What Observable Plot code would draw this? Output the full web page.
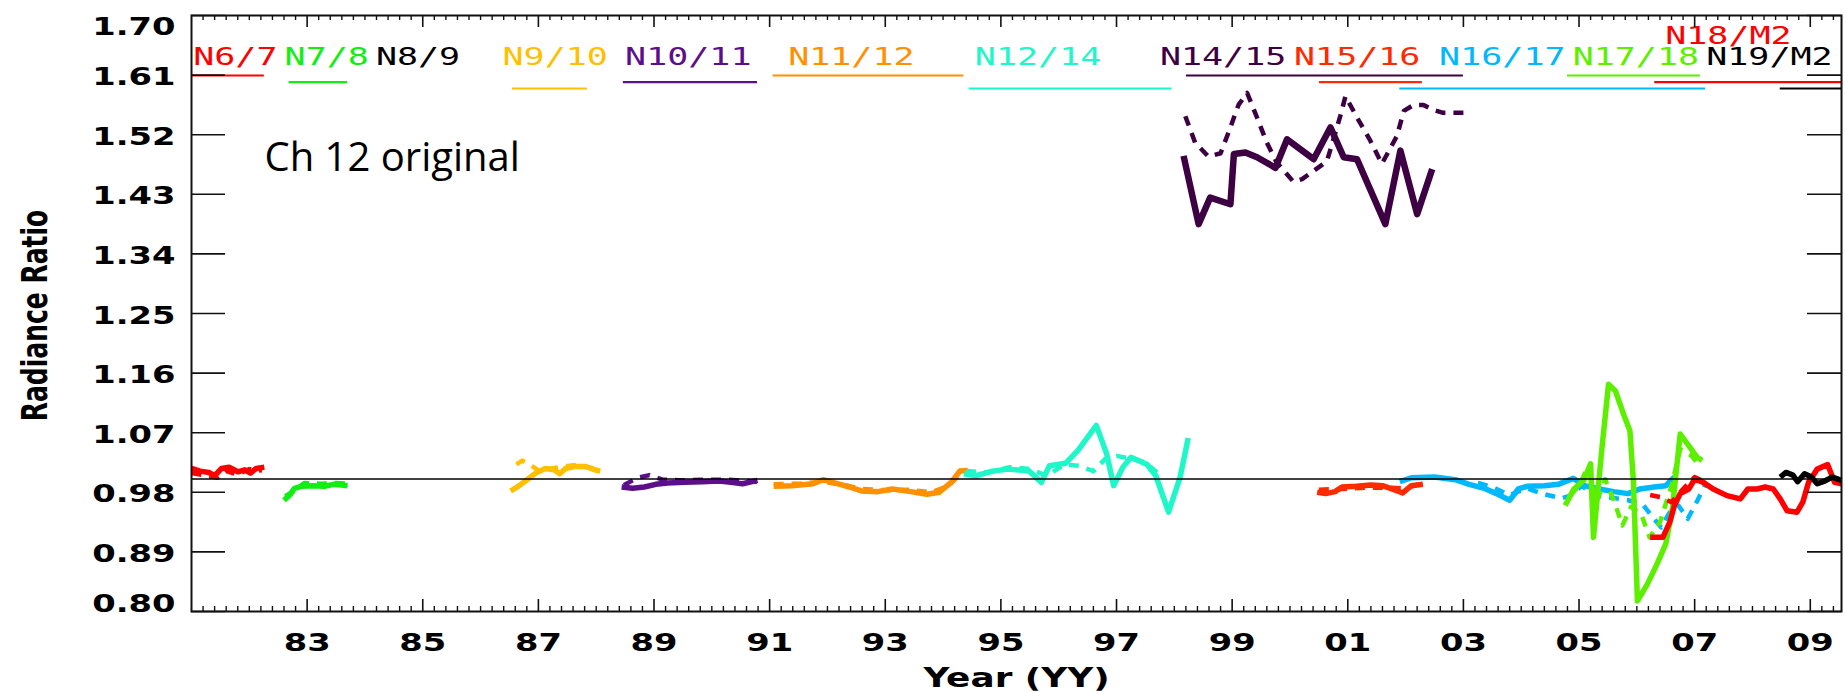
<!DOCTYPE html>
<html><head><meta charset="utf-8">
<script src="https://cdn.jsdelivr.net/npm/d3@7"></script>
<script src="https://cdn.jsdelivr.net/npm/@observablehq/plot@0.6"></script>
<style>
html,body{margin:0;padding:0;background:#fff;}
#chart svg{display:block;}
</style></head><body><div id="chart"></div>
<script>
// ---- tick labels ----
const xMajor = [1983,1985,1987,1989,1991,1993,1995,1997,1999,2001,2003,2005,2007,2009];
const yTicks = [0.80,0.89,0.98,1.07,1.16,1.25,1.34,1.43,1.52,1.61,1.70];

// ---- satellite pairs ----
const pairNames  = ["N6/7","N7/8","N8/9","N9/10","N10/11","N11/12","N12/14","N14/15","N15/16","N16/17","N17/18","N18/M2","N19/M2"];
const pairColors = ["#ff0000","#11ee11","#000000","#ffc000","#5c0f8b","#ff9000","#1ef7c8","#3d0042","#ff2a00","#00b8ff","#5cf000","#ff0000","#000000"];
const labelYears = [1981.03,1982.61,1984.19,1986.38,1988.50,1991.32,1994.55,1997.75,2000.07,2002.58,2004.89,2006.49,2007.20];
const labelUpper = [false,false,false,false,false,false,false,false,false,false,false,true,false];
const spanStart  = [1981.00,1982.69,null,1986.55,1988.47,1991.06,1994.45,1998.21,2000.51,2001.90,2004.80,2006.31,2008.48];
const spanEnd    = [1982.26,1983.70,null,1987.85,1990.79,1994.36,1997.96,2003.00,2002.29,2007.19,2007.10,2009.54,2009.54];
const spanLevel  = [0,1,null,2,1,0,2,0,1,2,0,1,2];

// ---- radiance ratio series [year, ratio] ----
const n6_7   = [[1981.00,1.016],[1981.15,1.012],[1981.30,1.010],[1981.40,1.005],[1981.52,1.016],[1981.65,1.018],[1981.80,1.011],[1981.92,1.014],[1982.02,1.009],[1982.12,1.016],[1982.26,1.018]];
const n6_7d  = [[1981.00,1.009],[1981.20,1.006],[1981.45,1.002],[1981.60,1.012],[1981.80,1.007],[1982.00,1.015],[1982.22,1.013]];
const n7_8   = [[1982.60,0.968],[1982.70,0.976],[1982.78,0.986],[1982.90,0.989],[1983.10,0.990],[1983.30,0.989],[1983.45,0.992],[1983.60,0.991],[1983.70,0.990]];
const n7_8d  = [[1982.62,0.974],[1982.78,0.982],[1982.95,0.994],[1983.25,0.993],[1983.50,0.994],[1983.70,0.993]];
const n9_10  = [[1986.52,0.982],[1986.67,0.990],[1986.82,1.000],[1986.97,1.010],[1987.12,1.016],[1987.27,1.014],[1987.37,1.008],[1987.47,1.016],[1987.62,1.019],[1987.82,1.019],[1987.97,1.014],[1988.07,1.012]];
const n9_10d = [[1986.62,1.022],[1986.72,1.028],[1986.85,1.022],[1987.00,1.013],[1987.30,1.017],[1987.60,1.021],[1987.90,1.017],[1988.05,1.014]];
const n10_11 = [[1988.44,0.988],[1988.63,0.986],[1988.83,0.988],[1989.03,0.992],[1989.23,0.994],[1989.53,0.995],[1989.83,0.996],[1990.13,0.997],[1990.33,0.995],[1990.53,0.993],[1990.79,0.998]];
const n10_11d= [[1988.48,0.991],[1988.72,1.002],[1988.92,1.006],[1989.15,0.999],[1989.50,0.998],[1989.90,0.999],[1990.30,0.999],[1990.60,0.997],[1990.79,0.996]];
const n11_12 = [[1991.07,0.989],[1991.39,0.990],[1991.75,0.993],[1991.92,0.999],[1992.17,0.993],[1992.38,0.988],[1992.59,0.982],[1992.87,0.981],[1993.12,0.985],[1993.44,0.981],[1993.72,0.977],[1993.93,0.980],[1994.14,0.995],[1994.29,1.012],[1994.43,1.013]];
const n11_12d= [[1991.07,0.992],[1991.50,0.993],[1991.90,0.996],[1992.30,0.991],[1992.60,0.985],[1993.00,0.983],[1993.40,0.984],[1993.80,0.980],[1994.10,0.990],[1994.30,1.008],[1994.43,1.010]];
const n12_14 = [[1994.36,1.008],[1994.57,1.005],[1994.85,1.012],[1995.13,1.015],[1995.49,1.012],[1995.70,0.995],[1995.84,1.020],[1996.12,1.024],[1996.33,1.043],[1996.65,1.081],[1996.83,1.038],[1996.95,0.990],[1997.11,1.018],[1997.25,1.033],[1997.53,1.022],[1997.68,1.005],[1997.90,0.950],[1998.10,1.003],[1998.24,1.062]];
const n12_14d= [[1994.40,1.012],[1994.80,1.010],[1995.15,1.018],[1995.50,1.015],[1995.80,1.005],[1996.10,1.022],[1996.35,1.020],[1996.60,1.012],[1996.80,1.030],[1997.00,1.035],[1997.30,1.030],[1997.50,1.025],[1997.70,1.010]];
const n14_15 = [[1998.16,1.488],[1998.42,1.385],[1998.62,1.425],[1998.97,1.415],[1999.03,1.491],[1999.23,1.493],[1999.43,1.486],[1999.75,1.470],[1999.95,1.513],[2000.41,1.483],[2000.70,1.531],[2000.93,1.486],[2001.16,1.483],[2001.65,1.385],[2001.91,1.496],[2002.20,1.400],[2002.46,1.468]];
const n14_15d= [[1998.19,1.548],[1998.36,1.508],[1998.59,1.487],[1998.80,1.492],[1998.97,1.531],[1999.11,1.565],[1999.26,1.583],[1999.43,1.546],[1999.60,1.508],[1999.77,1.478],[2000.06,1.449],[2000.21,1.453],[2000.53,1.473],[2000.64,1.480],[2000.87,1.548],[2000.96,1.578],[2001.16,1.546],[2001.39,1.511],[2001.59,1.476],[2001.85,1.518],[2001.97,1.556],[2002.14,1.565],[2002.31,1.565],[2002.46,1.558],[2002.65,1.553],[2003.00,1.553]];
const n15_16 = [[2000.47,0.980],[2000.62,0.978],[2000.78,0.981],[2000.90,0.988],[2001.15,0.989],[2001.40,0.991],[2001.60,0.990],[2001.80,0.984],[2001.95,0.979],[2002.10,0.990],[2002.30,0.992]];
const n15_16d= [[2000.50,0.984],[2000.90,0.985],[2001.30,0.987],[2001.70,0.987],[2002.00,0.986],[2002.30,0.994]];
const n16_17 = [[2001.90,0.996],[2002.10,1.002],[2002.50,1.003],[2002.86,0.999],[2003.10,0.992],[2003.36,0.986],[2003.57,0.978],[2003.80,0.968],[2003.95,0.985],[2004.10,0.989],[2004.40,0.990],[2004.64,0.992],[2004.90,1.001],[2005.10,0.990],[2005.35,0.985],[2005.60,0.981],[2005.85,0.978],[2006.05,0.985],[2006.30,0.988],[2006.50,0.990],[2006.65,1.003]];
const n16_17d= [[2003.25,0.994],[2003.50,0.988],[2003.80,0.976],[2004.10,0.986],[2004.40,0.977],[2004.70,0.971],[2004.85,0.975],[2005.05,0.990],[2005.25,0.975],[2005.55,0.972],[2005.85,0.968],[2006.10,0.962],[2006.25,0.945],[2006.42,0.927],[2006.57,0.950],[2006.72,0.960],[2006.88,0.940],[2007.05,0.968],[2007.20,0.995]];
const n17_18 = [[2004.76,0.960],[2004.91,0.985],[2005.08,0.998],[2005.20,1.023],[2005.25,0.912],[2005.40,1.050],[2005.51,1.143],[2005.63,1.133],[2005.77,1.098],[2005.88,1.073],[2005.94,0.997],[2006.01,0.816],[2006.18,0.841],[2006.35,0.872],[2006.50,0.902],[2006.61,0.952],[2006.67,1.002],[2006.75,1.068],[2006.90,1.050],[2007.04,1.033],[2007.13,1.028]];
const n17_18d= [[2004.85,0.975],[2005.00,0.990],[2005.15,1.018],[2005.30,0.965],[2005.45,1.000],[2005.60,0.968],[2005.75,0.930],[2005.90,0.958],[2006.08,0.946],[2006.22,0.912],[2006.40,0.935],[2006.60,0.990],[2006.75,1.045],[2006.95,1.035],[2007.08,1.020]];
const n18_m2 = [[2006.23,0.912],[2006.45,0.912],[2006.57,0.935],[2006.65,0.960],[2006.75,0.978],[2006.90,0.985],[2007.00,1.000],[2007.15,0.995],[2007.32,0.985],[2007.56,0.975],[2007.79,0.970],[2007.92,0.985],[2008.08,0.985],[2008.22,0.988],[2008.36,0.985],[2008.48,0.970],[2008.60,0.952],[2008.77,0.950],[2008.87,0.965],[2008.97,0.995],[2009.12,1.015],[2009.30,1.022],[2009.42,0.995],[2009.54,0.993]];
const n18_m2d= [[2006.23,0.976],[2006.40,0.973],[2006.60,0.965],[2006.80,0.985],[2007.00,1.003],[2007.15,0.997]];
const n19_m2 = [[2008.48,1.003],[2008.58,1.010],[2008.70,1.006],[2008.78,0.996],[2008.90,1.008],[2009.02,1.003],[2009.12,0.993],[2009.25,0.997],[2009.38,1.003],[2009.54,0.998]];

// [data, pair, dashed]
const lineSeries = [
  [n6_7d,"N6/7",true],[n6_7,"N6/7",false],
  [n7_8d,"N7/8",true],[n7_8,"N7/8",false],
  [n9_10d,"N9/10",true],[n9_10,"N9/10",false],
  [n10_11d,"N10/11",true],[n10_11,"N10/11",false],
  [n11_12d,"N11/12",true],[n11_12,"N11/12",false],
  [n12_14d,"N12/14",true],[n12_14,"N12/14",false],
  [n14_15d,"N14/15",true],[n14_15,"N14/15",false],
  [n15_16d,"N15/16",true],[n15_16,"N15/16",false],
  [n16_17d,"N16/17",true],[n16_17,"N16/17",false],
  [n17_18d,"N17/18",true],[n17_18,"N17/18",false],
  [n18_m2d,"N18/M2",true],[n18_m2,"N18/M2",false],
  [n19_m2,"N19/M2",false]
];

// ---- layout ----
const W = 1845, H = 692, mL = 191, mR = 4, mT = 15, mB = 81;
const plotW = W - mL - mR, plotH = H - mT - mB;
const colorOf = name => pairColors[pairNames.indexOf(name)];
const xMinor = d3.range(1, 143).filter(i => i % 10 !== 0).map(i => 1981 + i * 0.2);
const labels = pairNames.map((n, i) => ({name: n, year: labelYears[i], upper: labelUpper[i], color: pairColors[i]}));
const spans = pairNames.map((n, i) => ({name: n, x1: spanStart[i], x2: spanEnd[i], level: spanLevel[i], color: pairColors[i]})).filter(d => d.x1 != null);
const levelDy = [60, 66.7, 73];
const fmtY = d3.format(".2f");
const fmtX = d => String(d % 100).padStart(2, "0");
const tickFont = {fontSize: 25, fontWeight: "bold", fontFamily: "DejaVu Sans", fill: "#000"};
const annotation = "Ch 12 original";
const xTitle = "Year (YY)", yTitle = "Radiance Ratio";

const marks = [];
for (const [data, pair, dashed] of lineSeries) {
  const thick = pair === "N14/15" && !dashed ? 6.5 : dashed ? 4.5 : 5.5;
  marks.push(Plot.line(data, {
    x: d => d[0], y: d => d[1], stroke: colorOf(pair),
    strokeWidth: thick, strokeDasharray: dashed ? "10,8" : null,
    strokeLinejoin: "round", strokeLinecap: "butt"
  }));
}
const yTickLabel = (ticks, dy) => Plot.text(ticks, {y: d => d, text: fmtY, frameAnchor: "left", dx: -16, dy,
  textAnchor: "end", lineAnchor: "middle", ...tickFont});
marks.push(
  Plot.ruleY([1.0], {stroke: "#000", strokeWidth: 1.5}),
  // underlines of overlap periods
  ...[0, 1, 2].map(k => Plot.ruleY(spans.filter(d => d.level === k), {
    x1: "x1", x2: "x2", y: () => 1.7, dy: levelDy[k], stroke: "color", strokeWidth: 2.2
  })),
  // pair labels
  Plot.text(labels.filter(d => !d.upper), {x: "year", text: "name", fill: "color", frameAnchor: "top", dy: 31.7,
    lineAnchor: "top", textAnchor: "start", fontSize: 25, fontFamily: "DejaVu Sans Mono"}),
  Plot.text(labels.filter(d => d.upper), {x: "year", text: "name", fill: "color", frameAnchor: "top", dy: 10.5,
    lineAnchor: "top", textAnchor: "start", fontSize: 25, fontFamily: "DejaVu Sans Mono"}),
  // ticks
  Plot.tickX(xMajor, {x: d => d, insetTop: plotH - 12, stroke: "#111", strokeWidth: 1.6}),
  Plot.tickX(xMajor, {x: d => d, insetBottom: plotH - 12, stroke: "#111", strokeWidth: 1.6}),
  Plot.tickX(xMinor, {x: d => d, insetTop: plotH - 5, stroke: "#111", strokeWidth: 1.4}),
  Plot.tickX(xMinor, {x: d => d, insetBottom: plotH - 5, stroke: "#111", strokeWidth: 1.4}),
  Plot.tickY(yTicks, {y: d => d, insetRight: plotW - 34, stroke: "#111", strokeWidth: 1.6}),
  Plot.tickY(yTicks, {y: d => d, insetLeft: plotW - 34, stroke: "#111", strokeWidth: 1.6}),
  Plot.frame({stroke: "#111", strokeWidth: 2}),
  // tick labels
  Plot.text(xMajor, {x: d => d, text: fmtX, frameAnchor: "bottom", dy: 22, lineAnchor: "top", textAnchor: "middle", ...tickFont}),
  yTickLabel(yTicks.slice(1, -1), 2),
  yTickLabel(yTicks.slice(-1), 11),
  yTickLabel(yTicks.slice(0, 1), -8),
  // axis titles
  Plot.text([xTitle], {frameAnchor: "bottom", dy: 56, lineAnchor: "top", textAnchor: "middle", fontSize: 27, fontWeight: "bold", fontFamily: "DejaVu Sans"}),
  Plot.text([yTitle], {frameAnchor: "left", dx: -156, dy: 2, rotate: -90, textAnchor: "middle", lineAnchor: "middle", fontSize: 25, fontWeight: "bold", fontFamily: "DejaVu Sans"}),
  // annotation
  Plot.text([annotation], {frameAnchor: "top-left", dx: 73, dy: 127, lineAnchor: "top", textAnchor: "start", fontSize: 40, fontFamily: "Open Sans", fill: "#000"})
);

const chart = Plot.plot({
  width: W, height: H,
  marginLeft: mL, marginRight: mR, marginTop: mT, marginBottom: mB,
  x: {domain: [1981, 2009.54], axis: null},
  y: {domain: [0.8, 1.7], axis: null},
  style: {fontFamily: "DejaVu Sans", background: "#fff", color: "#000", overflow: "visible"},
  marks
});
document.getElementById("chart").append(chart);

// horizontal stretch of the bitmap-like fonts of the original
function stretchEl(el, sx, sy) {
  let t = el.getAttribute("transform");
  if (!t) {
    const x = el.getAttribute("x") || 0, y = el.getAttribute("y") || 0;
    el.removeAttribute("x"); el.removeAttribute("y");
    t = `translate(${x},${y})`;
  }
  el.setAttribute("transform", `${t} scale(${sx},${sy})`);
}
chart.querySelectorAll("text").forEach(el => {
  const s = el.textContent.trim();
  if (!s || s === annotation) return;
  if (pairNames.includes(s)) stretchEl(el, 1.4, 1);
  else if (s === xTitle) stretchEl(el, 1.33, 1);
  else if (s === yTitle) stretchEl(el, 1, 1.4);
  else stretchEl(el, 1.35, 1);
});
</script></body></html>
